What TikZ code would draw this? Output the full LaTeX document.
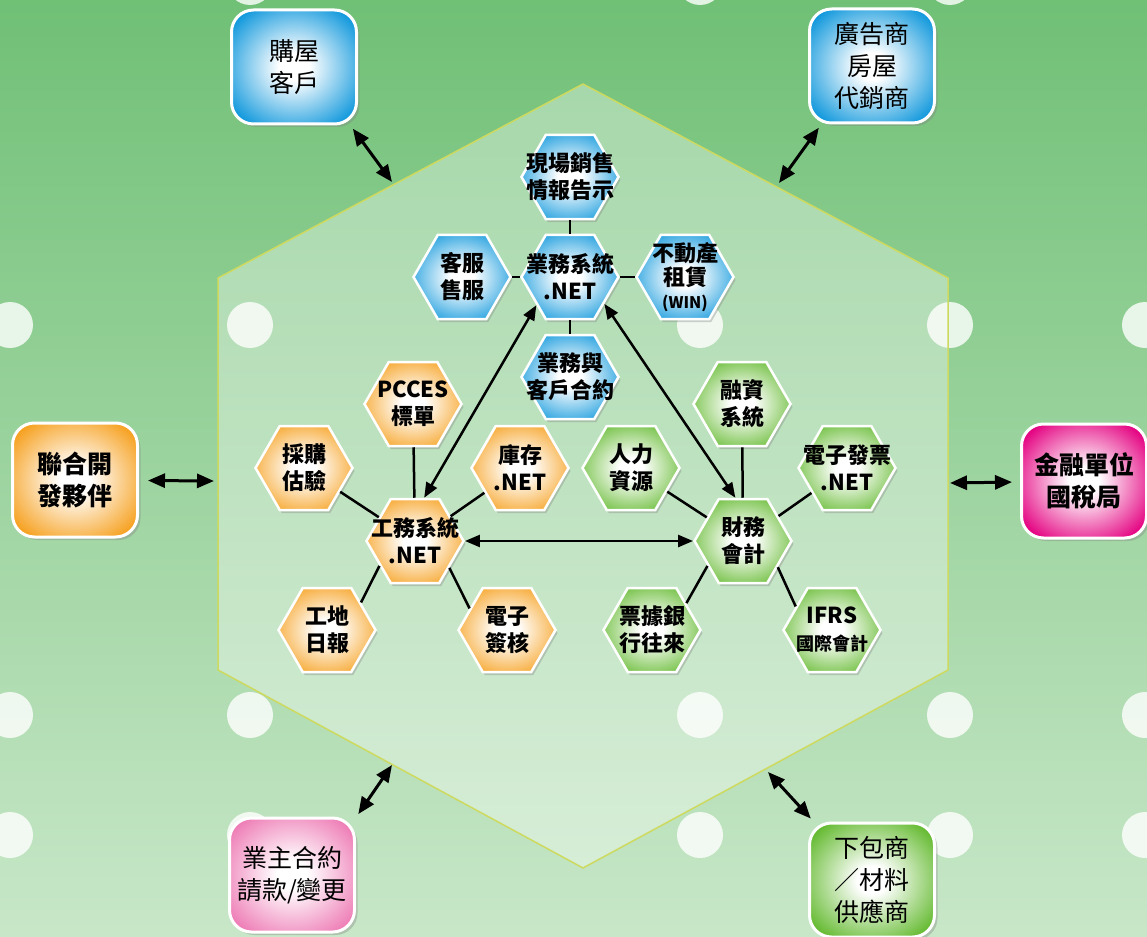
\documentclass[tikz,border=0pt]{standalone}
\usepackage{fontspec}
\setmainfont{Noto Sans CJK TC}
\usetikzlibrary{shapes.geometric,arrows.meta,shadows}

\definecolor{hexblue}{RGB}{16,152,220}
\definecolor{hexorange}{RGB}{246,160,30}
\definecolor{hexgreen}{RGB}{100,186,48}
\definecolor{boxpink}{RGB}{238,125,182}
\definecolor{boxmagenta}{RGB}{228,0,128}
\definecolor{bgtop}{RGB}{112,192,118}
\definecolor{bgmid}{RGB}{142,205,146}
\definecolor{bgbot}{RGB}{200,231,200}
\definecolor{rim}{RGB}{205,218,95}
\colorlet{hexc}{hexblue}
\pgfdeclareradialshading[hexc]{glow}{\pgfpoint{0bp}{0bp}}{color(0bp)=(white); color(6bp)=(white); color(31bp)=(hexc); color(50bp)=(hexc)}

\begin{document}
\begin{tikzpicture}[x=1pt,y=-1pt,
	hexa/.style={regular polygon,regular polygon sides=6,minimum size=97pt,inner sep=0pt,
		draw=white,line width=2.5pt,/utils/exec={\colorlet{hexc}{#1}},shade,shading=glow,
		drop shadow={shadow xshift=2pt,shadow yshift=-3pt,opacity=.35}},
	hxt/.style={align=center,inner sep=0pt,font=\bfseries\fontsize{22}{27}\selectfont},
	party/.style={rounded corners=22pt,minimum width=125pt,minimum height=114pt,
		draw=white,line width=3pt,/utils/exec={\colorlet{hexc}{#1}},shade,shading=glow,
		align=center,font=\fontsize{25}{32}\selectfont,
		drop shadow={shadow xshift=3pt,shadow yshift=-3pt,opacity=.35}},
	partyb/.style={party=#1,font=\bfseries\fontsize{25}{32}\selectfont},
	link/.style={line width=2.5pt},
	flow/.style={line width=2.5pt,{Triangle[length=15pt,width=12pt]}-{Triangle[length=15pt,width=12pt]}},
	ext/.style={line width=3pt,{Triangle[length=17pt,width=14pt]}-{Triangle[length=17pt,width=14pt]},shorten <=4pt},
	spot/.style={fill=white,fill opacity=.8}
]
	\useasboundingbox (0,0) rectangle (1147,936);
	\clip (0,0) rectangle (1147,936);
	\shade[top color=bgtop,middle color=bgmid,bottom color=bgbot] (0,0) rectangle (1147,936);

	% white spots
	\foreach \x/\y in {250/-18,700/-18,950/-18,
		10/325,250/325,700/325,950/325,1145/325,
		10/715,250/715,700/715,950/715,1145/715,
		10/835,250/835,700/835,950/835,1145/835}
		\fill[spot] (\x,\y) circle (23);

	% big hexagon
	\coordinate (hT) at (583,84);
	\coordinate (hUR) at (948,278);
	\coordinate (hLR) at (948,670);
	\coordinate (hB) at (583,868);
	\coordinate (hLL) at (218,670);
	\coordinate (hUL) at (218,278);
	\draw[rim,line width=1.5pt,fill=white,fill opacity=.35] (hT)--(hUR)--(hLR)--(hB)--(hLL)--(hUL)--cycle;

	% outside parties
	\node[party=hexblue] (buyer) at (294,67) {購屋\\客戶};
	\node[party=hexblue] (agent) at (872,66) {廣告商\\房屋\\代銷商};
	\node[partyb=hexorange] (partner) at (75,480) {聯合開\\發夥伴};
	\node[partyb=boxmagenta] (bank) at (1084,481) {金融單位\\國稅局};
	\node[party=boxpink] (owner) at (292,875) {業主合約\\請款/變更};
	\node[party=hexgreen] (sub) at (872,880) {下包商\\／材料\\供應商};

	\coordinate (eBuyer) at (392,182);
	\coordinate (eAgent) at (779,183);
	\coordinate (ePartner) at (214,481);
	\coordinate (eBank) at (950,483);
	\coordinate (eOwner) at (392,765);
	\coordinate (eSub) at (768,772);
	\draw[ext] (buyer.314) -- (eBuyer);
	\draw[ext] (agent.229) -- (eAgent);
	\draw[ext,shorten <=9pt] (partner) -- (ePartner);
	\draw[ext,shorten <=8pt] (bank) -- (eBank);
	\draw[ext] (owner.42) -- (eOwner);
	\draw[ext] (sub.135) -- (eSub);

	% sales system
	\node[hexa=hexblue,label={[hxt]center:現場銷售\\情報告示}] (xc) at (570,177) {};
	\node[hexa=hexblue,label={[hxt]center:業務系統\\.NET}] (yw) at (570,277) {};
	\node[hexa=hexblue,label={[hxt]center:客服\\售服}] (kf) at (462,277) {};
	\node[hexa=hexblue,label={[hxt]center:不動產\\[-3pt]租賃\\[-4pt]{\fontsize{16}{18}\selectfont (WIN)}}] (bd) at (685,277) {};
	\node[hexa=hexblue,label={[hxt]center:業務與\\客戶合約}] (yh) at (570,377) {};

	% construction system
	\node[hexa=hexorange,label={[hxt]center:PCCES\\標單}] (pc) at (413,404) {};
	\node[hexa=hexorange,label={[hxt]center:採購\\估驗}] (cg) at (304,468) {};
	\node[hexa=hexorange,label={[hxt]center:庫存\\.NET}] (kc) at (520,468) {};
	\node[hexa=hexorange,label={[hxt]center:工務系統\\.NET}] (gw) at (415,541) {};
	\node[hexa=hexorange,label={[hxt]center:工地\\日報}] (gd) at (327,630) {};
	\node[hexa=hexorange,label={[hxt]center:電子\\簽核}] (dq) at (507,630) {};

	% accounting system
	\node[hexa=hexgreen,label={[hxt]center:融資\\系統}] (rz) at (742,404) {};
	\node[hexa=hexgreen,label={[hxt]center:人力\\資源}] (rl) at (631,468) {};
	\node[hexa=hexgreen,label={[hxt]center:電子發票\\.NET}] (fp) at (847,468) {};
	\node[hexa=hexgreen,label={[hxt]center:財務\\會計}] (cw) at (743,541) {};
	\node[hexa=hexgreen,label={[hxt]center:票據銀\\行往來}] (pj) at (652,630) {};
	\node[hexa=hexgreen,label={[hxt]center:IFRS\\{\fontsize{18}{22}\selectfont 國際會計}}] (ifrs) at (832,630) {};

	\draw[link] (xc)--(yw) (kf)--(yw) (yw)--(bd) (yw)--(yh);
	\draw[link] (pc)--(gw) (cg)--(gw) (kc)--(gw) (gw.215)--(gd.39) (gw.322)--(dq.150);
	\draw[link] (rz)--(cw) (rl)--(cw) (fp)--(cw) (cw.215)--(pj.38) (cw.323)--(ifrs.147);

	\draw[flow] (gw.78) -- (yw.220);
	\draw[flow] (yw.322) -- (cw.100);
	\draw[flow] (gw) -- (cw);
\end{tikzpicture}
\end{document}
